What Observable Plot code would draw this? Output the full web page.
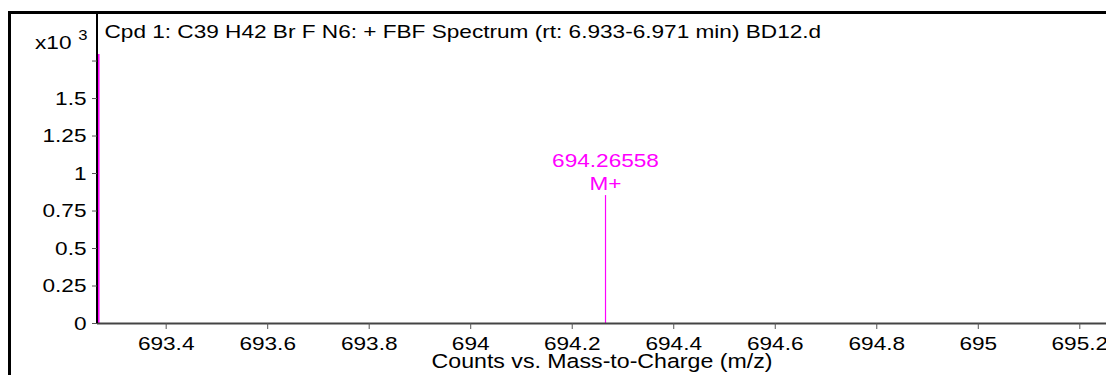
<!DOCTYPE html>
<html>
<head>
<meta charset="utf-8">
<script src="https://cdn.jsdelivr.net/npm/d3@7"></script>
<script src="https://cdn.jsdelivr.net/npm/@observablehq/plot@0.6"></script>
<style>
  html, body { margin: 0; padding: 0; background: #fff; overflow: hidden; }
  #wrap { position: relative; width: 1106px; height: 375px; }
  #frame { position: absolute; left: 8px; top: 11px; width: 1200px; height: 400px;
           border-left: 3px solid #000; border-top: 3px solid #000; box-sizing: border-box; }
  #chart { position: absolute; left: 0; top: 0; }
</style>
</head>
<body>
<div id="wrap"><div id="frame"></div><div id="chart"></div></div>
<script>
// ---- data ----
const title = "Cpd 1: C39 H42 Br F N6: + FBF Spectrum (rt: 6.933-6.971 min) BD12.d";
const xLabel = "Counts vs. Mass-to-Charge (m/z)";
const yUnit = "x10";
const yExponent = "3";
const xDomain = [693.2647, 695.2526];
const yDomain = [0, 2.067];
const xTicks = [693.4, 693.6, 693.8, 694, 694.2, 694.4, 694.6, 694.8, 695, 695.2];
const xTickLabels = ["693.4", "693.6", "693.8", "694", "694.2", "694.4", "694.6", "694.8", "695", "695.2"];
const yTicks = [0, 0.25, 0.5, 0.75, 1, 1.25, 1.5, 1.75];
const yTickLabels = ["0", "0.25", "0.5", "0.75", "1", "1.25", "1.5", ""];
const edgePeakMz = [693.2668];
const edgePeakIntensity = [1.793];
const peakMz = [694.26558];
const peakIntensity = [0.853];
const peakLabels = ["694.26558\nM+"];

const edgePeaks = edgePeakMz.map((m, i) => ({mz: m, v: edgePeakIntensity[i]}));
const peaks = peakMz.map((m, i) => ({mz: m, v: peakIntensity[i], label: peakLabels[i]}));

const magenta = "#ff00ff";
const font = "'Liberation Sans', Arial, sans-serif";
const stretch = 1.19;      // the reference's glyphs are horizontally widened
const labelStretch = 1.13; // the axis title is a little taller, less widened

const chart = Plot.plot({
  width: 1106,
  height: 375,
  marginLeft: 97,
  marginRight: 0,
  marginTop: 13,
  marginBottom: 52,
  style: {fontFamily: font, fontSize: "19px", color: "#000", background: "transparent", overflow: "visible"},
  x: {domain: xDomain},
  y: {domain: yDomain},
  marks: [
    Plot.ruleX(edgePeaks, {x: "mz", y1: 0, y2: "v", stroke: magenta, strokeWidth: 2}),
    Plot.ruleX(peaks, {x: "mz", y1: 0, y2: "v", stroke: magenta, strokeWidth: 1.2}),
    Plot.text(peaks, {x: "mz", y: "v", text: "label", fill: magenta, fontSize: 19, lineAnchor: "bottom", lineHeight: 1.2, dy: -6}),
    Plot.ruleY([0], {stroke: "#444", strokeWidth: 2}),
    Plot.ruleX([xDomain[0]], {stroke: "#000", strokeWidth: 2, dx: -0.5}),
    Plot.axisX({ticks: xTicks, tickFormat: (d) => xTickLabels[xTicks.indexOf(d)], tickSize: 6, tickPadding: 7, stroke: "#555", fill: "#000", fontSize: 19, label: null}),
    Plot.axisY({ticks: yTicks, tickFormat: (d) => yTickLabels[yTicks.indexOf(d)], tickSize: 5, tickPadding: 6, stroke: "#555", fill: "#000", fontSize: 19, label: null}),
    Plot.text([title], {frameAnchor: "top-left", dx: 7, dy: 11, lineAnchor: "top", textAnchor: "start", fontSize: 19, fill: "#000"}),
    Plot.text([xLabel], {frameAnchor: "bottom", dy: 30, lineAnchor: "top", fontSize: 20.5, fill: "#000"}),
    Plot.text([yUnit], {frameAnchor: "top-left", dx: -26, dy: 35, lineAnchor: "bottom", textAnchor: "end", fontSize: 19, fill: "#000"}),
    Plot.text([yExponent], {frameAnchor: "top-left", dx: -10, dy: 26, lineAnchor: "bottom", textAnchor: "end", fontSize: 14, fill: "#000"})
  ]
});
// widen every text around its own anchor point, as in the reference
d3.select(chart).selectAll("text").each(function() {
  const t = this.getAttribute("transform") || "";
  const s = this.textContent === xLabel ? labelStretch : stretch;
  this.setAttribute("transform", (t + ` scale(${s},1)`).trim());
});
document.getElementById("chart").appendChild(chart);
</script>
</body>
</html>
